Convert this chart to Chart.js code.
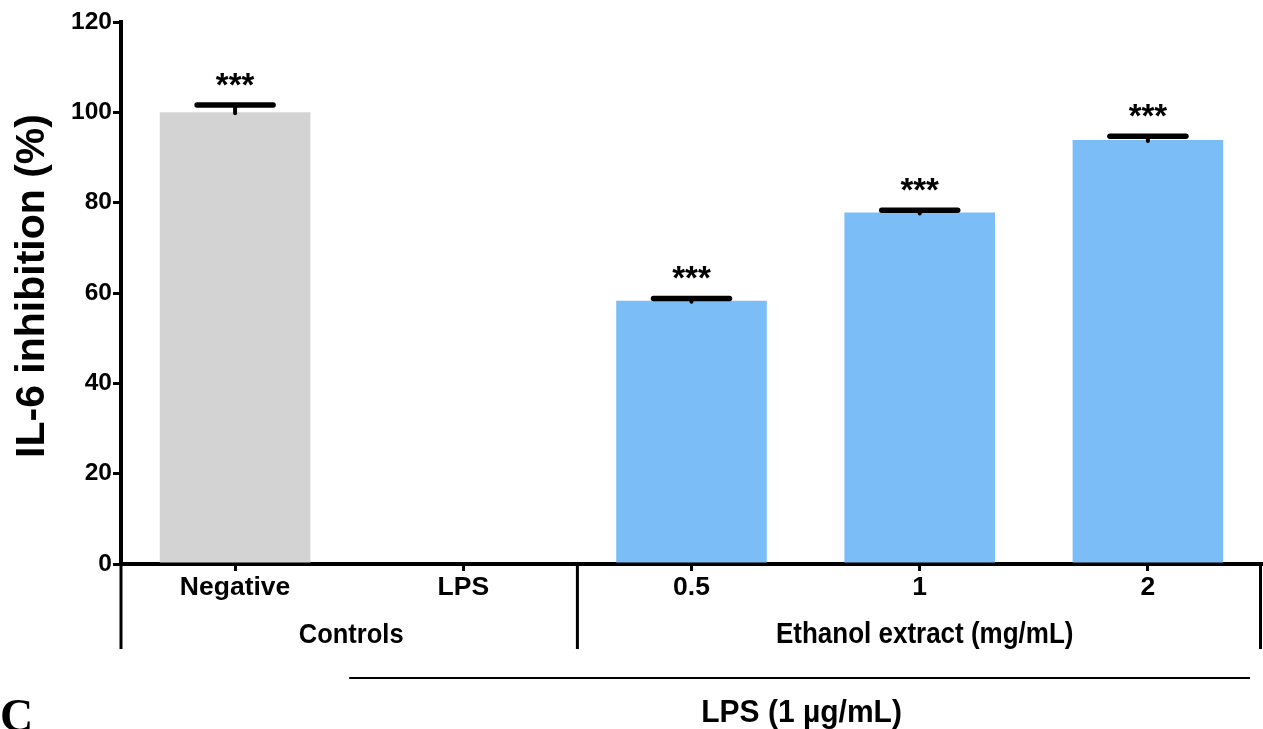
<!DOCTYPE html>
<html>
<head>
<meta charset="utf-8">
<script src="https://cdn.jsdelivr.net/npm/chart.js@4.4.0/dist/chart.umd.min.js"></script>
<style>
html,body{margin:0;padding:0;background:#fff;}
#wrap{width:1263px;height:729px;position:relative;}
canvas{display:block;}
</style>
</head>
<body>
<div id="wrap"><canvas id="c" width="1263" height="729"></canvas></div>
<script>
const categories = ['Negative', 'LPS', '0.5', '1', '2'];
const values = [100, 0, 58.3, 77.8, 93.9];
const errors = [1.6, 0, 0.5, 0.5, 0.8];
const significance = ['***', '', '***', '***', '***'];
const barColors = ['#d3d3d3', '#7bbdf7', '#7bbdf7', '#7bbdf7', '#7bbdf7'];
const yTicks = [0, 20, 40, 60, 80, 100, 120];
const yTitle = 'IL-6 inhibition (%)';
const groupLabels = ['Controls', 'Ethanol extract (mg/mL)'];
const treatmentLabel = 'LPS (1 \u00b5g/mL)';
const panelLetter = 'C';

const FONT = "'Liberation Sans', Arial, Helvetica, sans-serif";

function stretchText(ctx, text, x, y, font, sy) {
  ctx.save();
  ctx.translate(x, y);
  ctx.scale(1, sy);
  ctx.font = font;
  ctx.fillText(text, 0, 0);
  ctx.restore();
}

const annot = {
  id: 'annot',
  afterDatasetsDraw(chart) {
    const ctx = chart.ctx;
    const x = chart.scales.x, y = chart.scales.y;
    ctx.save();
    values.forEach((v, i) => {
      if (!errors[i]) return;
      const cx = x.getPixelForValue(i);
      const yb = y.getPixelForValue(v);
      const ye = y.getPixelForValue(v + errors[i]);
      ctx.strokeStyle = '#000';
      ctx.lineCap = 'round';
      ctx.lineWidth = 4;
      ctx.beginPath(); ctx.moveTo(cx, yb + 1); ctx.lineTo(cx, ye); ctx.stroke();
      ctx.lineWidth = 5.5;
      ctx.beginPath(); ctx.moveTo(cx - 38, ye); ctx.lineTo(cx + 38, ye); ctx.stroke();
      if (significance[i]) {
        ctx.fillStyle = '#000';
        ctx.textAlign = 'center';
        ctx.textBaseline = 'alphabetic';
        stretchText(ctx, significance[i], cx, ye - 9, 'bold 33px ' + FONT, 1.0);
      }
    });
    ctx.restore();
  },
  afterDraw(chart) {
    const ctx = chart.ctx;
    const x = chart.scales.x, y = chart.scales.y;
    const area = chart.chartArea;
    const y0 = y.getPixelForValue(0);
    const step = x.getPixelForValue(1) - x.getPixelForValue(0);
    const sep = (x.getPixelForValue(1) + x.getPixelForValue(2)) / 2;
    ctx.save();
    ctx.strokeStyle = '#000';
    ctx.lineCap = 'butt';
    ctx.lineWidth = 3;
    [area.left, sep, area.right - 1.5].forEach(px => {
      ctx.beginPath(); ctx.moveTo(px, y0); ctx.lineTo(px, 649); ctx.stroke();
    });
    ctx.fillStyle = '#000';
    ctx.textAlign = 'center';
    ctx.textBaseline = 'alphabetic';
    stretchText(ctx, groupLabels[0], (area.left + sep) / 2 + 2, 643, 'bold 25.5px ' + FONT, 1.1);
    stretchText(ctx, groupLabels[1], (sep + area.right) / 2 + 5, 643, 'bold 26px ' + FONT, 1.1);
    const lx0 = x.getPixelForValue(1) - step / 2;
    const lx1 = area.right - 12;
    ctx.lineWidth = 2;
    ctx.beginPath(); ctx.moveTo(lx0, 678); ctx.lineTo(lx1, 678); ctx.stroke();
    stretchText(ctx, treatmentLabel, (lx0 + lx1) / 2 + 2, 722, 'bold 30px ' + FONT, 1.05);
    ctx.save();
    ctx.translate(33, 286);
    ctx.rotate(-Math.PI / 2);
    ctx.font = 'bold 41px ' + FONT;
    ctx.textBaseline = 'middle';
    ctx.textAlign = 'center';
    ctx.fillText(yTitle, 0, 0);
    ctx.restore();
    ctx.font = 'bold 46px "Liberation Serif", "Times New Roman", serif';
    ctx.textAlign = 'left';
    ctx.textBaseline = 'alphabetic';
    ctx.fillText(panelLetter, 0, 731);
    ctx.restore();
  }
};

new Chart(document.getElementById('c'), {
  type: 'bar',
  data: {
    labels: categories,
    datasets: [{
      data: values,
      backgroundColor: barColors,
      borderWidth: 0,
      barPercentage: 0.66,
      categoryPercentage: 1.0
    }]
  },
  options: {
    responsive: false,
    animation: false,
    devicePixelRatio: 1,
    layout: { padding: { top: 22, right: 1, left: 0, bottom: 0 } },
    plugins: { legend: { display: false }, tooltip: { enabled: false } },
    scales: {
      x: {
        offset: true,
        grid: { display: true, drawOnChartArea: false, drawTicks: true, tickLength: 7, lineWidth: 3, color: '#000', offset: false },
        border: { display: true, color: '#000', width: 4 },
        ticks: { color: '#000', font: { family: FONT, size: 26.5, weight: 'bold' }, padding: 1, maxRotation: 0, autoSkip: false },
        afterFit(s) { s.height = 165; }
      },
      y: {
        min: 0, max: 120,
        afterBuildTicks(s) { s.ticks = yTicks.map(v => ({ value: v })); },
        grid: { display: true, drawOnChartArea: false, drawTicks: true, tickLength: 8, lineWidth: 3, color: '#000' },
        border: { display: true, color: '#000', width: 4 },
        ticks: { color: '#000', font: { family: FONT, size: 24.5, weight: 'bold' }, padding: 1 },
        afterFit(s) { s.width = 121; }
      }
    }
  },
  plugins: [annot]
});
</script>
</body>
</html>
